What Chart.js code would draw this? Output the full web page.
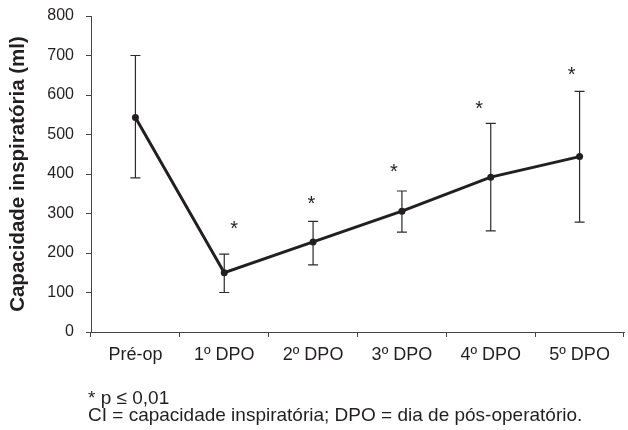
<!DOCTYPE html>
<html>
<head>
<meta charset="utf-8">
<script src="https://cdn.jsdelivr.net/npm/chart.js@4/dist/chart.umd.min.js"></script>
<style>
  html, body { margin: 0; padding: 0; background: #fff; }
  #wrap { position: relative; width: 628px; height: 430px; }
  canvas { position: absolute; left: 0; top: 0; }
  #foot { position: absolute; left: 88px; top: 389px; font-family: "Liberation Sans", Arial, sans-serif;
          font-size: 19px; line-height: 17px; color: #231f20; white-space: nowrap; }
</style>
</head>
<body>
<div id="wrap">
  <canvas id="c" width="628" height="430"></canvas>
  <div id="foot">* p ≤ 0,01<br>CI = capacidade inspiratória; DPO = dia de pós-operatório.</div>
</div>
<script>
// ---- data ----
const categories = ["Pré-op", "1º DPO", "2º DPO", "3º DPO", "4º DPO", "5º DPO"];
const meanCI  = [543, 150, 228, 306, 392, 444];
const upperCI = [700, 197, 280, 357, 528, 609];
const lowerCI = [390, 100, 170, 253, 256, 278];
// significance markers (* p <= 0,01): value height and small horizontal shift in category units
const sigY      = [null, 275, 338, 420, 581, 667];
const sigShift  = [null, 0.11, -0.02, -0.09, -0.13, -0.09];
const yTicks = [0, 100, 200, 300, 400, 500, 600, 700, 800];

const INK = '#231f20';
const FONT = '"Liberation Sans", Arial, sans-serif';

const errorBars = {
  id: 'errorBars',
  beforeDatasetsDraw(chart) {
    const {ctx, scales: {x, y}} = chart;
    ctx.save();
    ctx.strokeStyle = '#2b2b2b';
    ctx.lineWidth = 1.2;
    const cap = 5;
    categories.forEach((c, i) => {
      const px = x.getPixelForValue(i);
      const yt = y.getPixelForValue(upperCI[i]);
      const yb = y.getPixelForValue(lowerCI[i]);
      ctx.beginPath();
      ctx.moveTo(px, yt); ctx.lineTo(px, yb);
      ctx.moveTo(px - cap, yt); ctx.lineTo(px + cap, yt);
      ctx.moveTo(px - cap, yb); ctx.lineTo(px + cap, yb);
      ctx.stroke();
    });
    ctx.restore();
  },
  afterDatasetsDraw(chart) {
    const {ctx, scales: {x, y}} = chart;
    ctx.save();
    ctx.fillStyle = INK;
    ctx.font = '20px ' + FONT;
    ctx.textAlign = 'center';
    ctx.textBaseline = 'alphabetic';
    sigY.forEach((v, i) => {
      if (v == null) return;
      const px = x.getPixelForValue(i + sigShift[i]);
      const py = y.getPixelForValue(v);
      ctx.fillText('*', px, py + 12);
    });
    ctx.restore();
  }
};

new Chart(document.getElementById('c'), {
  type: 'line',
  data: {
    labels: categories,
    datasets: [{
      data: meanCI,
      borderColor: INK,
      backgroundColor: INK,
      borderWidth: 3,
      pointRadius: 3.5,
      pointBackgroundColor: INK,
      pointBorderWidth: 0,
      tension: 0,
      fill: false
    }]
  },
  options: {
    responsive: false,
    animation: false,
    events: [],
    layout: { padding: { top: 16, right: 0, bottom: 0, left: 0 } },
    plugins: { legend: { display: false }, tooltip: { enabled: false } },
    scales: {
      x: {
        type: 'category',
        offset: true,
        grid: { offset: true, drawOnChartArea: false, drawTicks: true, tickLength: 5, color: '#444', lineWidth: 1 },
        border: { display: true, color: '#444', width: 1 },
        ticks: { font: { family: FONT, size: 18 }, color: INK, padding: 7, maxRotation: 0, autoSkip: false },
        afterFit(s) { s.height = 98; s.paddingTop = 0; }
      },
      y: {
        min: 0, max: 800,
        afterBuildTicks(s) { s.ticks = yTicks.map(v => ({ value: v })); },
        grid: { drawOnChartArea: false, drawTicks: true, tickLength: 5, color: '#444', lineWidth: 1 },
        border: { display: true, color: '#444', width: 1 },
        ticks: { font: { family: FONT, size: 16 }, color: INK, padding: 12 },
        title: { display: true, text: 'Capacidade inspiratória (ml)', color: INK,
                 font: { family: FONT, size: 20.5, weight: 'bold' }, padding: { top: 6, bottom: 0 } },
        afterFit(s) { s.width = 91; s.paddingTop = 0; s.paddingBottom = 0; }
      }
    }
  },
  plugins: [errorBars]
});
</script>
</body>
</html>
